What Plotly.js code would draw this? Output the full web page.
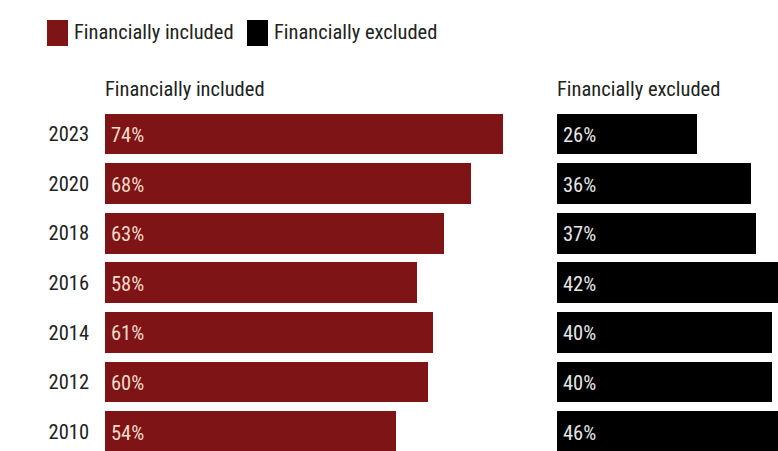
<!DOCTYPE html>
<html><head><meta charset="utf-8">
<script src="https://cdn.plot.ly/plotly-3.0.1.min.js"></script>
<style>html,body{margin:0;padding:0;background:#fff}</style>
</head><body>
<div id="chart" style="width:778px;height:451px"></div>
<script>
const years = ["2023","2020","2018","2016","2014","2012","2010"];
const included = [74, 68, 63, 58, 61, 60, 54];
const excluded = [26, 36, 37, 42, 40, 40, 46];
const seriesNames = ["Financially included", "Financially excluded"];
const colors = ["#7f1416", "#000000"];
const labelColors = ["#f3dcc8", "#e6e6e6"];

const FONT = "Roboto Condensed, Liberation Sans Narrow, DejaVu Sans Condensed, Roboto, sans-serif";
const W = 778, H = 451;
const pxPerPct = 5.38;
const leftStart = 105, rightStart = 557;
const rowTop = 134, rowStep = 49.6;

const traces = [
  {type:"bar", orientation:"h", y: years, x: included, xaxis:"x", yaxis:"y",
   marker:{color:colors[0]}, width:0.82, hoverinfo:"none", showlegend:false},
  {type:"bar", orientation:"h", y: years, x: excluded, xaxis:"x2", yaxis:"y",
   marker:{color:colors[1]}, width:0.82, hoverinfo:"none", showlegend:false}
];

const yTop = -rowTop/rowStep;
const yBot = (H - rowTop)/rowStep;

const annotations = [
  {xref:"paper", yref:"paper", x:72/W, y:1-32/H, xanchor:"left", yanchor:"middle",
   text:seriesNames[0], showarrow:false, font:{family:FONT, size:20.5, color:"#222"}},
  {xref:"paper", yref:"paper", x:272/W, y:1-32/H, xanchor:"left", yanchor:"middle",
   text:seriesNames[1], showarrow:false, font:{family:FONT, size:20.5, color:"#222"}},
  {xref:"paper", yref:"paper", x:leftStart/W - 0.002, y:1-89/H, xanchor:"left", yanchor:"middle",
   text:seriesNames[0], showarrow:false, font:{family:FONT, size:20.5, color:"#222"}},
  {xref:"paper", yref:"paper", x:rightStart/W - 0.002, y:1-89/H, xanchor:"left", yanchor:"middle",
   text:seriesNames[1], showarrow:false, font:{family:FONT, size:20.5, color:"#222"}}
];
years.forEach((yr, i) => {
  annotations.push({xref:"x", yref:"y", x:0, y:i, xanchor:"left", yanchor:"middle",
    xshift:4, yshift:-1, text:included[i] + "%", showarrow:false,
    font:{family:FONT, size:20.5, color:labelColors[0]}});
  annotations.push({xref:"x2", yref:"y", x:0, y:i, xanchor:"left", yanchor:"middle",
    xshift:4, yshift:-1, text:excluded[i] + "%", showarrow:false,
    font:{family:FONT, size:20.5, color:labelColors[1]}});
});

const layout = {
  width: W, height: H,
  margin:{l:0,r:0,t:0,b:0},
  paper_bgcolor:"#fff", plot_bgcolor:"rgba(0,0,0,0)",
  font:{family:FONT, color:"#222"},
  showlegend:false,
  bargap:0,
  xaxis:{domain:[leftStart/W, rightStart/W], range:[0,(rightStart-leftStart)/pxPerPct],
         visible:false, fixedrange:true},
  xaxis2:{domain:[rightStart/W, 1], range:[0,(W-rightStart)/pxPerPct],
          visible:false, fixedrange:true, anchor:"y"},
  yaxis:{domain:[0,1], type:"category", categoryorder:"array", categoryarray:years,
         range:[yBot, yTop], showgrid:false, zeroline:false, showline:false,
         ticks:"", ticklabelstandoff:15, tickfont:{family:FONT, size:20.5, color:"#222"},
         fixedrange:true},
  shapes:[
    {type:"rect", xref:"paper", yref:"paper", x0:47/W, x1:68/W, y0:1-46/H, y1:1-20/H,
     fillcolor:colors[0], line:{width:0}},
    {type:"rect", xref:"paper", yref:"paper", x0:247/W, x1:268/W, y0:1-46/H, y1:1-20/H,
     fillcolor:colors[1], line:{width:0}}
  ],
  annotations: annotations
};

Plotly.newPlot("chart", traces, layout, {displayModeBar:false, staticPlot:true});
</script>
</body></html>
